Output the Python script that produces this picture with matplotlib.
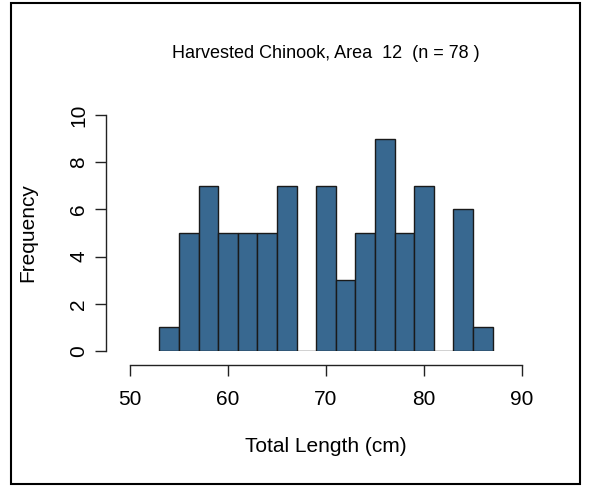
import matplotlib
matplotlib.use("Agg")
import matplotlib.pyplot as plt
from matplotlib.patches import Rectangle

plt.rcParams['font.family'] = ['Liberation Sans', 'DejaVu Sans']

# histogram bins (2 cm wide) and counts
bin_edges = [53, 55, 57, 59, 61, 63, 65, 67, 69, 71, 73, 75, 77, 79, 81, 83, 85, 87]
counts = [1, 5, 7, 5, 5, 5, 7, 0, 7, 3, 5, 9, 5, 7, 0, 6, 1]
x_ticks = [50, 60, 70, 80, 90]
y_ticks = [0, 2, 4, 6, 8, 10]
n_fish = sum(counts)

fig = plt.figure(figsize=(5.91, 4.87), dpi=100)
ax = fig.add_axes([130 / 591, 1 - 351 / 487, 392 / 591, 236 / 487])

lefts = bin_edges[:-1]
widths = [b - a for a, b in zip(bin_edges[:-1], bin_edges[1:])]
ax.bar(lefts, counts, width=widths, align='edge', color='#386890',
       edgecolor='#1a1a1a', linewidth=1.0)

ax.set_xlim(50, 90)
ax.set_ylim(0, 10)
ax.set_xticks(x_ticks)
ax.set_yticks(y_ticks)

for s in ['top', 'right']:
    ax.spines[s].set_visible(False)
ax.spines['left'].set_position(('outward', 17))
ax.spines['bottom'].set_position(('outward', 10))
ax.spines['left'].set_bounds(0, 10)
ax.spines['bottom'].set_bounds(50, 90)
for s in ['left', 'bottom']:
    ax.spines[s].set_linewidth(1.0)
    ax.spines[s].set_color('#222222')
ax.tick_params(length=8, width=1.0, color='#222222', labelsize=15)
ax.tick_params(axis='x', pad=10)
ax.tick_params(axis='y', pad=5, labelrotation=90)
for lab in ax.get_yticklabels():
    lab.set_va('center')

ax.set_xlabel('Total Length (cm)', fontsize=15, va='center')
ax.xaxis.set_label_coords(0.5, (351 - 447) / 236)
ax.set_ylabel('Frequency', fontsize=15, va='center')
ax.yaxis.set_label_coords((28 - 130) / 392, 0.5)

fig.text(326 / 591, 1 - 53 / 487, f'Harvested Chinook, Area  12  (n = {n_fish} )',
         fontsize=13, ha='center', va='center')

fig.patches.append(Rectangle((11 / 591, 3 / 487), 569 / 591, 481 / 487,
                             transform=fig.transFigure, fill=False,
                             edgecolor='black', linewidth=1.5))

fig.savefig('out.png', dpi=100)
